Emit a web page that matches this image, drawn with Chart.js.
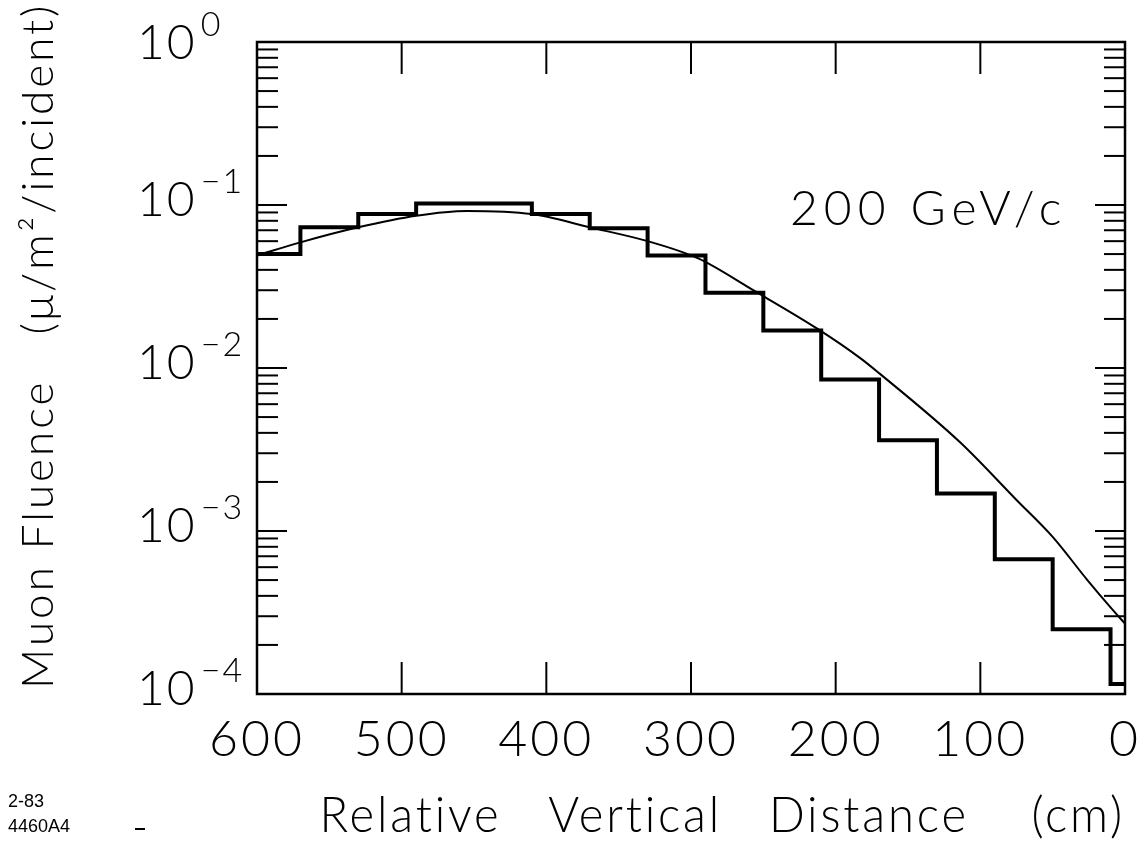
<!DOCTYPE html>
<html>
<head>
<meta charset="utf-8">
<script src="https://cdn.jsdelivr.net/npm/chart.js@4.4.0/dist/chart.umd.min.js"></script>
<style>
  html, body { margin: 0; padding: 0; background: #fff; }
  canvas { display: block; }
</style>
</head>
<body>
<canvas id="chart" width="1143" height="856"></canvas>
<script>
// Histogramme : bords des classes (cm) et fluence par classe
const binEdges = [600, 570, 530, 490, 410, 370, 330, 290, 250, 210, 170, 130, 90, 50, 10, 0];
const binValues = [0.050, 0.073, 0.088, 0.102, 0.088, 0.072, 0.049, 0.029, 0.017, 0.0085, 0.0036, 0.0017, 0.00067, 0.00025, 0.000115];

// Courbe calculée
const curveX = [600, 570, 530, 490, 455, 410, 370, 330, 295, 257, 213, 183, 170, 114, 75, 50, 26, 10, 0];
const curveY = [0.049, 0.059, 0.073, 0.086, 0.092, 0.088, 0.073, 0.060, 0.047, 0.030, 0.0175, 0.0115, 0.0093, 0.0035, 0.00155, 0.00092, 0.0005, 0.00034, 0.00027];

// Axes
const xTicks = [600, 500, 400, 300, 200, 100, 0];
const yDecades = [1e-4, 1e-3, 1e-2, 1e-1, 1];
const yExponents = ["\u22124", "\u22123", "\u22122", "\u22121", "0"];

const FONT = "Lato, 'DejaVu Sans', sans-serif";

// points du trait en escalier
const histPoints = binEdges.map((e, i) => ({x: e, y: binValues[Math.min(i, binValues.length - 1)]}));
const curvePoints = curveX.map((v, i) => ({x: v, y: curveY[i]}));

function seg(ctx, x1, y1, x2, y2) {
  ctx.beginPath();
  ctx.moveTo(x1, y1);
  ctx.lineTo(x2, y2);
  ctx.stroke();
}

// cadre, graduations internes, étiquettes log et textes
const framePlugin = {
  id: "frame",
  beforeDraw(chart) {
    chart.ctx.letterSpacing = "3px";
  },
  afterDraw(chart) {
    const ctx = chart.ctx;
    const a = chart.chartArea;
    const x = chart.scales.x;
    const y = chart.scales.y;
    ctx.save();
    ctx.strokeStyle = "#000";
    ctx.lineWidth = 2.5;
    ctx.strokeRect(a.left, a.top, a.right - a.left, a.bottom - a.top);

    ctx.lineWidth = 2;
    xTicks.forEach(v => {
      if (v === 0 || v === 600) return;
      const px = x.getPixelForValue(v);
      seg(ctx, px, a.bottom, px, a.bottom - 32);
      seg(ctx, px, a.top, px, a.top + 32);
    });

    yDecades.forEach(d => {
      const py = y.getPixelForValue(d);
      seg(ctx, a.left, py, a.left + 30, py);
      seg(ctx, a.right, py, a.right - 30, py);
      if (d >= 1) return;
      for (let k = 2; k <= 9; k++) {
        const pm = y.getPixelForValue(k * d);
        seg(ctx, a.left, pm, a.left + 21, pm);
        seg(ctx, a.right, pm, a.right - 21, pm);
      }
    });

    // étiquettes 10^n
    ctx.fillStyle = "#000";
    ctx.textBaseline = "alphabetic";
    ctx.textAlign = "left";
    ctx.letterSpacing = "2px";
    yDecades.forEach((d, i) => {
      const py = y.getPixelForValue(d) + (d >= 1 ? 6 : 0);
      ctx.font = "300 48px " + FONT;
      ctx.fillText("10", 137, py + 11);
      const w = ctx.measureText("10").width;
      ctx.font = "300 34px " + FONT;
      ctx.fillText(yExponents[i], 137 + w + 4, py - 12);
    });

    ctx.font = "300 48px " + FONT;
    ctx.letterSpacing = "6px";
    ctx.fillText("200 GeV/c", 790, 225);
    ctx.letterSpacing = "0px";

    ctx.font = "18px 'Liberation Sans', Arial, sans-serif";
    ctx.fillText("2-83", 8, 807);
    ctx.fillText("4460A4", 8, 832);
    ctx.lineWidth = 2;
    seg(ctx, 135, 829, 145, 829);
    ctx.restore();
    ctx.letterSpacing = "0px";
  }
};

new Chart(document.getElementById("chart"), {
  type: "line",
  data: {
    datasets: [
      {
        label: "histogramme",
        data: histPoints,
        stepped: "before",
        borderColor: "#000",
        borderWidth: 4,
        pointRadius: 0,
        fill: false
      },
      {
        label: "calcul",
        data: curvePoints,
        borderColor: "#000",
        borderWidth: 2,
        pointRadius: 0,
        cubicInterpolationMode: "monotone",
        fill: false
      }
    ]
  },
  options: {
    responsive: false,
    animation: false,
    layout: { padding: { top: 42, right: 18, left: 0, bottom: 0 } },
    plugins: { legend: { display: false }, tooltip: { enabled: false } },
    scales: {
      x: {
        type: "linear",
        reverse: true,
        min: 0,
        max: 600,
        grid: { display: false },
        border: { display: false },
        afterBuildTicks: s => { s.ticks = xTicks.map(v => ({value: v})); },
        afterFit: s => { s.height = 162; s.paddingLeft = 0; s.paddingRight = 0; },
        ticks: {
          color: "#000",
          padding: 8,
          maxRotation: 0,
          autoSkip: false,
          font: { family: FONT, size: 50, weight: "300" }
        },
        title: {
          display: true,
          text: "    Relative   Vertical   Distance    (cm)",
          color: "#000",
          font: { family: FONT, size: 50, weight: "300" },
          padding: { top: 0, bottom: 10 }
        }
      },
      y: {
        type: "logarithmic",
        min: 1e-4,
        max: 1,
        grid: { display: false },
        border: { display: false },
        ticks: { display: false },
        afterFit: s => { s.width = 257; s.paddingTop = 0; s.paddingBottom = 0; },
        title: {
          display: true,
          text: "   Muon Fluence   (\u03bc/m\u00b2/incident)",
          color: "#000",
          font: { family: FONT, size: 44, weight: "300" },
          padding: { top: 12, bottom: 0 }
        }
      }
    }
  },
  plugins: [framePlugin]
});
</script>
</body>
</html>
